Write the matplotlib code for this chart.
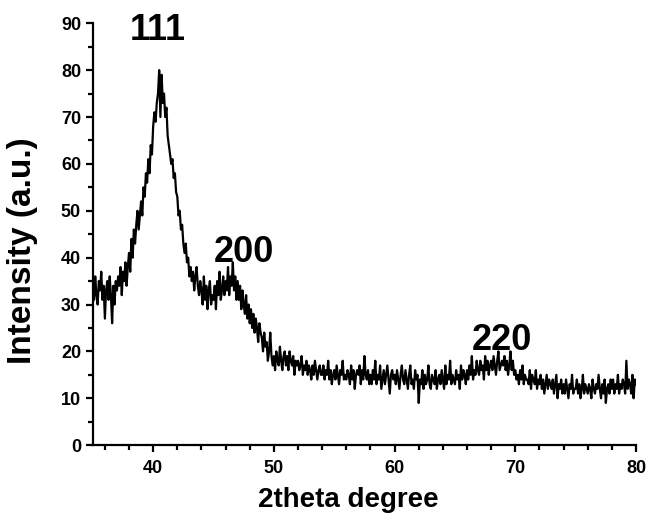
import matplotlib.pyplot as plt
import numpy as np

plt.rcParams.update({
    "font.family": "Liberation Sans",
    "font.weight": "bold",
    "axes.labelweight": "bold",
    "axes.linewidth": 1.6,
})

# 2theta from 35.0 to 80.0, step 0.1 (one row = one degree)
two_theta = np.round(np.arange(35.0, 80.05, 0.1), 1)

intensity = [
    34, 31, 36, 32, 30, 35, 33, 37, 31, 34,   # 35
    27, 33, 35, 31, 36, 32, 26, 34, 30, 35,   # 36
    33, 36, 34, 38, 32, 37, 35, 39, 34, 38,   # 37
    41, 37, 44, 40, 46, 43, 47, 50, 46, 49,   # 38
    52, 49, 55, 53, 58, 56, 61, 58, 64, 62,   # 39
    68, 71, 69, 73, 75, 80, 70, 79, 73, 75,   # 40
    70, 72, 66, 64, 62, 60, 61, 57, 58, 54,   # 41
    53, 49, 50, 46, 47, 43, 41, 43, 39, 40,   # 42
    36, 38, 35, 37, 33, 36, 38, 34, 32, 35,   # 43
    33, 30, 36, 31, 34, 29, 33, 35, 30, 32,   # 44
    31, 34, 29, 35, 32, 37, 31, 33, 36, 32,   # 45
    35, 33, 38, 32, 36, 34, 39, 33, 36, 31,   # 46
    35, 31, 34, 29, 33, 30, 28, 32, 27, 30,   # 47
    26, 29, 25, 28, 24, 27, 25, 22, 26, 24,   # 48
    23, 20, 24, 21, 22, 18, 20, 24, 19, 17,   # 49
    19, 16, 20, 18, 17, 21, 18, 16, 19, 20,   # 50
    17, 19, 16, 20, 18, 17, 19, 15, 18, 17,   # 51
    18, 16, 17, 19, 15, 17, 16, 18, 15, 17,   # 52
    16, 14, 17, 15, 18, 16, 14, 16, 17, 15,   # 53
    15, 17, 14, 16, 15, 18, 14, 16, 13, 15,   # 54
    16, 14, 17, 15, 13, 16, 15, 18, 14, 15,   # 55
    14, 16, 15, 13, 17, 14, 16, 12, 15, 16,   # 56
    15, 17, 13, 16, 14, 19, 15, 14, 16, 13,   # 57
    15, 13, 16, 14, 18, 13, 15, 14, 17, 12,   # 58
    14, 16, 13, 15, 17, 14, 11, 15, 16, 14,   # 59
    15, 13, 16, 14, 12, 15, 17, 14, 13, 16,   # 60
    14, 12, 15, 17, 13, 14, 12, 16, 14, 15,   # 61
    9, 14, 13, 16, 12, 15, 13, 14, 17, 13,    # 62
    12, 15, 14, 13, 16, 12, 14, 15, 13, 16,   # 63
    14, 12, 17, 13, 15, 14, 18, 13, 15, 14,   # 64
    13, 16, 14, 15, 12, 17, 14, 16, 15, 13,   # 65
    16, 14, 17, 15, 19, 14, 16, 15, 18, 16,   # 66
    15, 18, 16, 17, 14, 19, 16, 18, 15, 17,   # 67
    18, 16, 19, 17, 15, 18, 20, 16, 17, 18,   # 68
    17, 19, 16, 18, 15, 17, 20, 16, 18, 15,   # 69
    16, 14, 15, 13, 16, 14, 17, 13, 15, 14,   # 70
    14, 13, 16, 12, 15, 14, 13, 16, 12, 14,   # 71
    13, 15, 12, 14, 11, 13, 15, 12, 14, 13,   # 72
    12, 14, 11, 13, 15, 10, 13, 12, 14, 11,   # 73
    13, 11, 14, 12, 10, 13, 12, 15, 11, 12,   # 74
    12, 14, 11, 13, 10, 12, 15, 11, 13, 12,   # 75
    11, 13, 12, 10, 14, 12, 11, 13, 12, 15,   # 76
    12, 10, 13, 11, 14, 9, 12, 13, 11, 14,    # 77
    12, 14, 11, 13, 12, 15, 11, 13, 12, 14,   # 78
    13, 11, 18, 12, 14, 13, 11, 15, 10, 14,   # 79
    13,                                       # 80
]

peak_labels = ['111', '200', '220']
peak_x = [40.4, 47.5, 68.9]
peak_y = [86.4, 39.0, 20.3]

fig = plt.figure(figsize=(6.49, 5.17), dpi=100)
ax = fig.add_axes([0.143, 0.139, 0.837, 0.816])

ax.plot(two_theta, intensity, color='black', linewidth=1.6)

for lab, px, py in zip(peak_labels, peak_x, peak_y):
    ax.text(px, py, lab, fontsize=26, fontweight='bold', ha='center', va='baseline')

ax.set_xlim(35, 80)
ax.set_ylim(0, 90)
ax.set_xticks([40, 50, 60, 70, 80])
ax.set_xticks(np.arange(36, 80, 2), minor=True)
ax.set_yticks(np.arange(0, 91, 10))
ax.set_yticks(np.arange(5, 90, 10), minor=True)

ax.spines['top'].set_visible(False)
ax.spines['right'].set_visible(False)
ax.tick_params(which='major', direction='out', length=5, width=1.6, labelsize=13)
ax.tick_params(which='minor', direction='out', length=3.5, width=1.6)
ax.tick_params(axis='x', which='major', pad=6)

ax.set_xlabel('2theta degree', fontsize=20)
ax.set_ylabel('Intensity (a.u.)', fontsize=24)
ax.xaxis.set_label_coords(0.47, -0.1, transform=ax.transAxes)
ax.xaxis.label.set_va('top')
ax.yaxis.set_label_coords(-0.1, 0.46, transform=ax.transAxes)

fig.savefig('out.png', dpi=100)
